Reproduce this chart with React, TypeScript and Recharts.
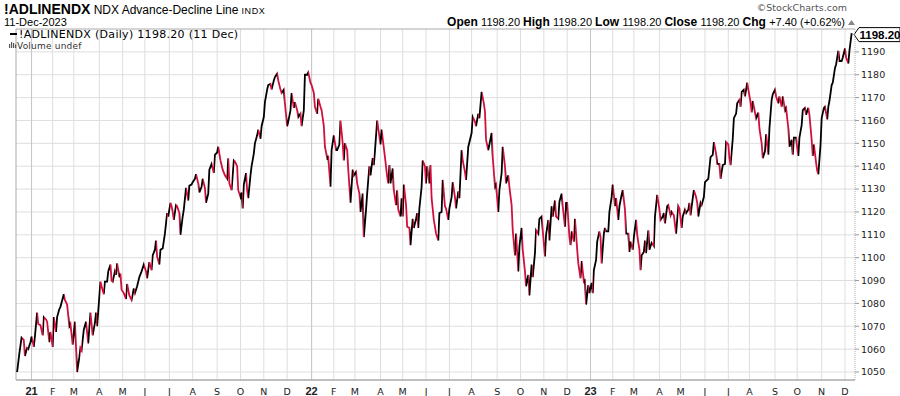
import { CartesianGrid, Line, LineChart, ReferenceLine, XAxis, YAxis } from 'recharts'

// trading-day index (0 = 14 Dec 2020), close of the advance-decline line
const adl2021: [number, number][] = [
  [0, 1050], [2, 1058], [4, 1065], [6, 1064], [7, 1057], [9, 1060.5], [10, 1060], [12, 1063], [13, 1065.5],
  [15, 1061], [16, 1065.5], [18, 1076], [19, 1071], [21, 1070.5], [23, 1066], [24, 1074], [26, 1073], [27, 1072],
  [29, 1063], [30, 1067.5], [32, 1061], [33, 1074], [35, 1067.5], [36, 1074], [38, 1077.5], [39, 1078.5], [42, 1084],
  [43, 1081.5], [45, 1079.5], [47, 1070], [48, 1071], [50, 1062], [52, 1072], [53, 1061], [54, 1050], [56, 1056.5],
  [57, 1060.5], [58, 1059.5], [60, 1068.5], [62, 1072], [64, 1062.5], [66, 1076], [68, 1066], [70, 1071.5], [71, 1076],
  [72, 1070], [75, 1089.5], [76, 1087.5], [78, 1084], [79, 1089.5], [81, 1089.5], [82, 1094], [84, 1097], [85, 1090],
  [86, 1089.5], [88, 1094], [89, 1092.5], [90, 1097.5], [92, 1091.5], [93, 1093], [94, 1086], [96, 1084.5], [98, 1082],
  [99, 1088.5], [101, 1083.5], [103, 1081.5], [105, 1086.5], [106, 1084.5], [108, 1087.5], [110, 1091.5], [112, 1094],
  [114, 1097], [116, 1094], [117, 1091], [119, 1098], [121, 1094.5], [122, 1101], [124, 1103.5], [125, 1107.5],
  [126, 1100.5], [128, 1097], [129, 1103.5], [131, 1104], [133, 1110.5], [135, 1119.5], [136, 1118], [138, 1124],
  [139, 1122.5], [140, 1120], [141, 1116.5], [143, 1123], [144, 1122.5], [146, 1119.5], [147, 1110], [149, 1118],
  [150, 1121], [152, 1130.5], [154, 1125], [155, 1131.5], [157, 1132], [158, 1133], [160, 1134.5], [161, 1136.5],
  [163, 1132.5], [164, 1128.5], [166, 1131], [167, 1134.5], [169, 1130.5], [170, 1124], [172, 1128], [173, 1138.5],
  [175, 1141], [177, 1137], [178, 1145], [180, 1146], [181, 1148.5], [183, 1142.5], [185, 1138.5], [187, 1136],
  [189, 1134.5], [190, 1143.5], [191, 1132.5], [193, 1129.5], [195, 1142.5], [196, 1142], [198, 1140], [199, 1129.5],
  [201, 1126.5], [202, 1128.5], [203, 1121.5], [204, 1132], [206, 1137], [207, 1129.5], [208, 1126], [210, 1136],
  [211, 1140], [213, 1145.5], [214, 1150], [216, 1153.5], [217, 1156], [219, 1152], [220, 1157.5], [222, 1161.5],
  [223, 1168], [225, 1173.5], [226, 1175.5], [228, 1176], [229, 1173.5], [231, 1177.5], [232, 1179], [234, 1180.5],
  [235, 1177.5], [237, 1173.5], [238, 1172], [240, 1173.5], [241, 1167.5], [243, 1157.5], [244, 1159.5], [246, 1164.5],
  [247, 1172], [249, 1165.5], [250, 1168], [252, 1164.5], [253, 1161.5], [255, 1163], [256, 1157.5], [258, 1164.5],
  [259, 1180], [261, 1180], [262, 1181], [264, 1176.5],
]

const adl2022: [number, number][] = [
  [265, 1175.5], [267, 1172], [268, 1166], [270, 1163], [271, 1169.5], [273, 1166], [274, 1164.5], [276, 1157.5],
  [277, 1148.5], [279, 1143.5], [280, 1144], [282, 1131], [283, 1147], [285, 1153.5], [287, 1147], [288, 1147],
  [290, 1149.5], [291, 1160], [293, 1150], [294, 1142.5], [295, 1150], [297, 1147], [298, 1138.5], [300, 1124],
  [302, 1138.5], [303, 1136], [305, 1137.5], [306, 1132.5], [308, 1128], [309, 1120], [311, 1128], [312, 1109],
  [314, 1121], [315, 1128], [317, 1140], [318, 1136], [320, 1143.5], [321, 1140.5], [322, 1146.5], [324, 1160],
  [325, 1156.5], [327, 1149.5], [328, 1156], [330, 1148], [331, 1144], [333, 1135.5], [334, 1132.5], [335, 1140.5],
  [336, 1132.5], [338, 1139], [339, 1129.5], [341, 1123], [342, 1129.5], [343, 1121], [345, 1118], [346, 1126],
  [347, 1118], [348, 1132], [350, 1123], [351, 1113.5], [353, 1113], [354, 1105.5], [356, 1117], [357, 1113],
  [359, 1117], [360, 1119.5], [361, 1113], [362, 1121.5], [364, 1131], [365, 1142.5], [367, 1140], [368, 1132.5],
  [369, 1140], [371, 1132.5], [372, 1140.5], [373, 1126], [375, 1116.5], [377, 1110.5], [379, 1107.5], [380, 1119.5],
  [382, 1120], [383, 1134], [385, 1122.5], [386, 1121.5], [388, 1116.5], [389, 1121.5], [391, 1126.5], [392, 1133],
  [394, 1126.5], [395, 1121.5], [397, 1129], [398, 1126], [400, 1147], [401, 1142.5], [403, 1137.5], [404, 1134],
  [406, 1148.5], [407, 1150.5], [409, 1154.5], [410, 1161.5], [412, 1159.5], [413, 1157.5], [415, 1163], [416, 1161],
  [418, 1172.5], [420, 1167.5], [421, 1164], [422, 1151.5], [424, 1147], [425, 1149.5], [427, 1154.5], [428, 1144],
  [430, 1131], [431, 1132], [433, 1120], [434, 1129.5], [436, 1137], [437, 1148.5], [439, 1140], [440, 1132.5],
  [442, 1136], [443, 1131], [445, 1123], [446, 1112], [448, 1101], [449, 1110.5], [451, 1094], [452, 1105],
  [454, 1113], [455, 1103.5], [457, 1094], [458, 1087.5], [460, 1092.5], [461, 1083.5], [463, 1097], [464, 1091.5],
  [466, 1102], [467, 1112], [469, 1110.5], [470, 1117], [472, 1118], [473, 1112], [475, 1100.5], [476, 1110],
  [478, 1116.5], [479, 1107.5], [481, 1122.5], [482, 1118], [484, 1125], [485, 1118], [487, 1117], [488, 1124.5],
  [490, 1128], [491, 1122.5], [493, 1113.5], [494, 1124], [495, 1124], [497, 1109], [498, 1105.5], [499, 1111.5],
  [501, 1107], [502, 1117], [504, 1103.5], [505, 1097.5], [507, 1091], [508, 1098.5], [510, 1089.5], [511, 1090],
  [512, 1079.5], [514, 1088], [515, 1084.5],
]

const adl2023: [number, number][] = [
  [517, 1089], [518, 1084.5], [519, 1094.5], [521, 1099], [522, 1107], [524, 1111.5], [525, 1109], [526, 1097.5],
  [528, 1110.5], [529, 1113], [530, 1111.5], [532, 1111.5], [533, 1120], [535, 1126.5], [536, 1132], [538, 1122.5],
  [539, 1126], [541, 1116.5], [542, 1122.5], [544, 1127.5], [545, 1129.5], [547, 1121], [548, 1110.5], [550, 1110.5],
  [551, 1102.5], [552, 1107], [554, 1103.5], [555, 1109], [557, 1116.5], [558, 1110], [560, 1103.5], [561, 1094.5],
  [562, 1101], [564, 1102.5], [565, 1107.5], [566, 1102], [568, 1112], [569, 1103.5], [571, 1106.5], [573, 1105],
  [574, 1118], [576, 1127.5], [578, 1121], [579, 1116.5], [581, 1118], [582, 1119.5], [583, 1115], [585, 1122.5],
  [586, 1123], [588, 1118.5], [589, 1120], [591, 1118.5], [593, 1110.5], [595, 1122.5], [596, 1121.5], [598, 1113],
  [599, 1118], [601, 1121], [602, 1119.5], [604, 1121], [605, 1124], [606, 1118.5], [608, 1126], [609, 1129.5],
  [611, 1126.5], [612, 1124], [613, 1118], [615, 1124], [616, 1123], [618, 1126.5], [619, 1133], [621, 1134],
  [622, 1134.5], [624, 1144], [626, 1145], [627, 1150.5], [629, 1145.5], [630, 1141], [632, 1141], [633, 1134.5],
  [635, 1140.5], [637, 1141], [638, 1150.5], [640, 1149.5], [641, 1143.5], [642, 1140.5], [644, 1152], [645, 1161],
  [647, 1163], [648, 1167.5], [650, 1169], [651, 1166], [652, 1172.5], [654, 1173.5], [655, 1170.5], [657, 1176.5],
  [658, 1173.5], [660, 1168], [661, 1163.5], [662, 1168.5], [664, 1163.5], [665, 1161], [667, 1163.5], [668, 1156.5],
  [670, 1150], [671, 1143.5], [673, 1146.5], [674, 1154], [676, 1145], [677, 1156.5], [679, 1169], [680, 1171.5],
  [682, 1173.5], [683, 1170.5], [685, 1167.5], [686, 1170.5], [688, 1166], [689, 1170.5], [691, 1164.5], [692, 1165.5],
  [694, 1156.5], [695, 1148.5], [697, 1151.5], [698, 1145], [699, 1152.5], [701, 1152.5], [702, 1148], [703, 1144.5],
  [704, 1152.5], [706, 1158], [707, 1164.5], [709, 1165.5], [710, 1162.5], [712, 1165.5], [713, 1162.5], [715, 1151.5],
  [716, 1144.5], [717, 1149.5], [719, 1141.5], [720, 1138], [721, 1136.5], [723, 1149.5], [724, 1161], [726, 1165.5],
  [727, 1166], [729, 1160.5], [730, 1166], [731, 1168.5], [733, 1175.5], [734, 1176.5], [736, 1183], [737, 1184.5],
  [739, 1190.5], [740, 1186], [742, 1186], [743, 1187.5], [745, 1191.5], [746, 1187.5], [748, 1185], [749, 1190.5],
  [751, 1198.2],
]

// first trading day of each month, same day index
const monthStarts = [
  13, 32, 51, 74, 95, 115, 137, 158, 180, 201, 222, 243,
  265, 285, 304, 327, 347, 368, 389, 409, 432, 453, 474, 495,
  516, 536, 555, 578, 597, 619, 640, 659, 682, 702, 724, 745,
]
const monthLabels = [
  '21', 'F', 'M', 'A', 'M', 'J', 'J', 'A', 'S', 'O', 'N', 'D',
  '22', 'F', 'M', 'A', 'M', 'J', 'J', 'A', 'S', 'O', 'N', 'D',
  '23', 'F', 'M', 'A', 'M', 'J', 'J', 'A', 'S', 'O', 'N', 'D',
]
const yearStarts = [13, 265, 516]
const priceTicks = [1050, 1060, 1070, 1080, 1090, 1100, 1110, 1120, 1130, 1140, 1150, 1160, 1170, 1180, 1190]
const lastClose = 1198.2

const X_DOMAIN: [number, number] = [-1, 754]
const Y_DOMAIN: [number, number] = [1046.5, 1200]
const UP = '#000000'
const DOWN = '#d0103c'
const SANS = '"DejaVu Sans", Verdana, sans-serif'
const ARIAL = '"Liberation Sans", Arial, sans-serif'

const rows = [...adl2021, ...adl2022, ...adl2023].map(([d, v]) => ({ d, v }))

// hard colour stops: black on a rising day, red on a falling one
function strokeStops() {
  const first = rows[0].d
  const span = rows[rows.length - 1].d - first
  const stops = []
  for (let i = 0; i < rows.length - 1; i++) {
    const c = rows[i + 1].v >= rows[i].v ? UP : DOWN
    stops.push(<stop key={'a' + i} offset={(rows[i].d - first) / span} stopColor={c} />)
    stops.push(<stop key={'b' + i} offset={(rows[i + 1].d - first) / span} stopColor={c} />)
  }
  return stops
}

function MonthTick(props: any) {
  const { x, y, payload } = props
  const i = monthStarts.indexOf(payload.value)
  const isYear = yearStarts.includes(payload.value)
  return (
    <text
      x={x}
      y={y}
      dy={6.5}
      textAnchor="middle"
      fontFamily={isYear ? ARIAL : SANS}
      fontSize={isYear ? 11 : 9.5}
      fontWeight={isYear ? 'bold' : 'normal'}
      fill="#222"
    >
      {monthLabels[i]}
    </text>
  )
}

function PriceTag(props: any) {
  const vb = props.viewBox || {}
  const x0 = vb.x + vb.width + 2
  const yc = vb.y + 1.5
  return (
    <g>
      <polygon
        points={`${x0 - 3},${yc} ${x0 + 2},${yc - 7} ${x0 + 43},${yc - 7} ${x0 + 43},${yc + 7} ${x0 + 2},${yc + 7}`}
        fill="#fff"
        stroke="#000"
        strokeWidth={1}
      />
      <text x={x0 + 23} y={yc + 4} textAnchor="middle" fontFamily={ARIAL} fontSize={11.5} fontWeight="bold" fill="#000">
        {lastClose.toFixed(2)}
      </text>
    </g>
  )
}

export default function App() {
  return (
    <div style={{ position: 'absolute', left: 0, top: 0, width: 900, height: 396, background: '#fff', fontFamily: SANS }}>
      <LineChart width={900} height={396} data={rows} margin={{ top: 29, right: 0, bottom: 0, left: 16 }}>
        <defs>
          <linearGradient id="adlStroke" x1="0" y1="0" x2="1" y2="0">
            {strokeStops()}
          </linearGradient>
        </defs>
        <CartesianGrid stroke="#dedede" strokeWidth={1} horizontalValues={priceTicks} verticalValues={monthStarts} />
        {yearStarts.map((d) => (
          <ReferenceLine key={d} x={d} stroke="#c6c6c6" strokeWidth={1} />
        ))}
        <ReferenceLine y={Y_DOMAIN[1]} stroke="#aaa" />
        <ReferenceLine x={X_DOMAIN[0]} stroke="#aaa" />
        <XAxis
          dataKey="d"
          type="number"
          domain={X_DOMAIN}
          allowDataOverflow
          ticks={monthStarts}
          interval={0}
          tick={<MonthTick />}
          tickLine={false}
          axisLine={{ stroke: '#aaa', strokeWidth: 1.5 }}
          height={16}
        />
        <YAxis
          orientation="right"
          type="number"
          domain={Y_DOMAIN}
          allowDataOverflow
          ticks={priceTicks}
          interval={0}
          width={45}
          tickSize={4}
          tickMargin={2}
          tickLine={{ stroke: '#999' }}
          axisLine={{ stroke: '#aaa', strokeDasharray: '1 1' }}
          tick={{ fontFamily: SANS, fontSize: 9.5, fill: '#222' }}
        />
        <Line
          type="linear"
          dataKey="v"
          stroke="url(#adlStroke)"
          strokeWidth={1.8}
          dot={false}
          activeDot={false}
          isAnimationActive={false}
        />
        <ReferenceLine y={lastClose} stroke="none" label={(p: any) => <PriceTag {...p} />} />
      </LineChart>

      <svg width={900} height={396} style={{ position: 'absolute', left: 0, top: 0, pointerEvents: 'none' }}>
        <text x={4} y={14} fill="#000">
          <tspan fontFamily={ARIAL} fontSize={14} fontWeight="bold">!ADLINENDX</tspan>
          <tspan fontFamily={ARIAL} fontSize={12}> NDX Advance-Decline Line</tspan>
          <tspan fontFamily={ARIAL} fontSize={9} letterSpacing={0.6}> INDX</tspan>
        </text>
        <text x={4} y={26} fontFamily={ARIAL} fontSize={11} fill="#000">11-Dec-2023</text>
        <text x={847} y={11} textAnchor="end" fontFamily={SANS} fontSize={9.5} fill="#555">©StockCharts.com</text>
        <text x={845} y={26} textAnchor="end" fontFamily={ARIAL} fill="#000">
          <tspan fontSize={12} fontWeight="bold">Open </tspan>
          <tspan fontSize={11}>1198.20 </tspan>
          <tspan fontSize={12} fontWeight="bold">High </tspan>
          <tspan fontSize={11}>1198.20 </tspan>
          <tspan fontSize={12} fontWeight="bold">Low </tspan>
          <tspan fontSize={11}>1198.20 </tspan>
          <tspan fontSize={12} fontWeight="bold">Close </tspan>
          <tspan fontSize={11}>1198.20 </tspan>
          <tspan fontSize={12} fontWeight="bold">Chg </tspan>
          <tspan fontSize={11}>+7.40 (+0.62%)</tspan>
        </text>
        <polygon points="848,25 855,25 851.5,20" fill="#888" />
        <line x1={10} x2={17} y1={34} y2={34} stroke="#000" strokeWidth={2} />
        <text x={19} y={37.5} fontFamily={SANS} fontSize={11} letterSpacing={0.3} fill="#000">
          !ADLINENDX (Daily) 1198.20 (11 Dec)
        </text>
        <rect x={9} y={44} width={1.2} height={4} fill="#555" />
        <rect x={11} y={42} width={1.2} height={6} fill="#555" />
        <rect x={13} y={43} width={1.2} height={5} fill="#555" />
        <rect x={15} y={44.5} width={1.2} height={3.5} fill="#555" />
        <text x={17} y={48.5} fontFamily={SANS} fontSize={9} letterSpacing={0.2} fill="#333">Volume undef</text>
      </svg>
    </div>
  )
}
